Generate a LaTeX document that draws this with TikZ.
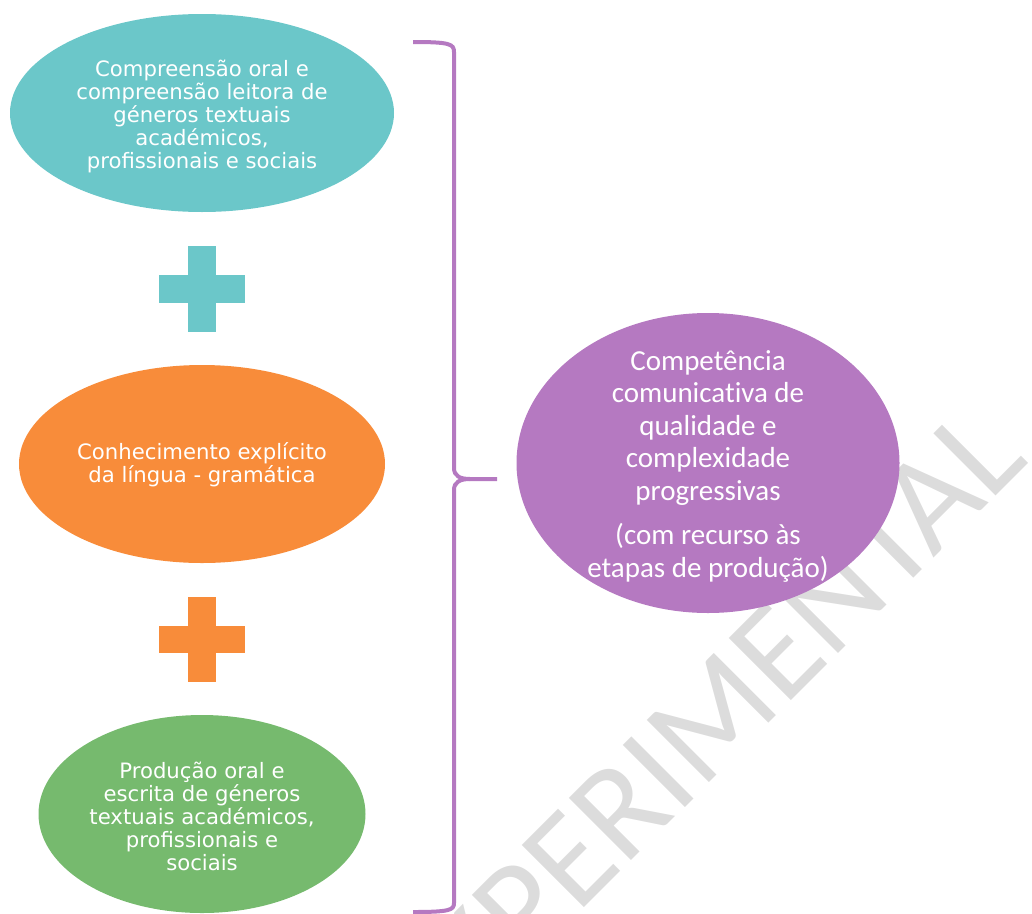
\documentclass[tikz,border=0pt]{standalone}
\usepackage{fontspec}
\usepackage{tikz}
\usetikzlibrary{shapes.geometric}

\newfontfamily\verdanafont{DejaVu Sans}
\newfontfamily\calibrifont[Ligatures={NoCommon, NoRequired}]{Carlito}

\definecolor{tealblob}{HTML}{6BC7C9}
\definecolor{orangeblob}{HTML}{F88C3A}
\definecolor{greenblob}{HTML}{76BA6E}
\definecolor{purpleblob}{HTML}{B579C1}
\definecolor{stampgray}{HTML}{DCDCDC}

\begin{document}
\begin{tikzpicture}[x=1pt, y=-1pt,
        blob/.style = {ellipse, inner sep=0pt},
        lefttext/.style = {text=white, align=center, font = {\verdanafont\fontsize{21.2}{23}\selectfont}},
        righttext/.style = {text=white, align=center, font = {\calibrifont\fontsize{29}{32.5}\selectfont}},
        brace/.style = {purpleblob, line width=4pt}
    ]
        \useasboundingbox (0, 0) rectangle (1032, 913);
        \clip (0, 0) rectangle (1032, 913);

        % watermark
        \node[rotate=45, anchor=base, text=stampgray, font = {\calibrifont\fontsize{137}{137}\selectfont}] (stamp) at (730, 762) {EXPERIMENTAL};

        \node[blob, fill=tealblob, minimum width=384pt, minimum height=198pt] (oral) at (202, 113) {};
        \node[blob, fill=orangeblob, minimum width=366pt, minimum height=198pt] (gram) at (202, 464) {};
        \node[blob, fill=greenblob, minimum width=327pt, minimum height=198pt] (prod) at (202, 814) {};
        \node[blob, fill=purpleblob, minimum width=383pt, minimum height=300pt] (goal) at (708, 463) {};

        \node[lefttext] (oraltext) at ([yshift=-3pt]oral.center) {Compreensão oral e\\compreensão leitora de\\géneros textuais\\académicos,\\profissionais e sociais};
        \node[lefttext] (gramtext) at ([yshift=-1pt]gram.center) {Conhecimento explícito\\da língua - gramática};
        \node[lefttext] (prodtext) at ([yshift=-2pt]prod.center) {Produção oral e\\escrita de géneros\\textuais académicos,\\profissionais e\\sociais};
        \node[righttext] (goaltext) at ([yshift=-3pt]goal.center) {Competência\\comunicativa de\\qualidade e\\complexidade\\progressivas\\[12pt](com recurso às\\etapas de produção)};

        % plus signs
        \fill[tealblob] (188, 246) rectangle (216, 332);
        \fill[tealblob] (159, 275) rectangle (245, 303);
        \fill[orangeblob] (188, 597) rectangle (216, 682);
        \fill[orangeblob] (159, 626) rectangle (245, 653);

        % brace
        \coordinate (tip) at (497, 479);
        \draw[brace] (413, 42) .. controls (450, 42) and (454, 44) .. (454, 52) -- (454, 468) .. controls (454, 476) and (460, 479) .. (470, 479) -- (tip);
        \draw[brace] (470, 479) .. controls (460, 479) and (454, 482) .. (454, 490) -- (454, 903) .. controls (454, 910) and (450, 912) .. (413, 912);
    \end{tikzpicture}
\end{document}
